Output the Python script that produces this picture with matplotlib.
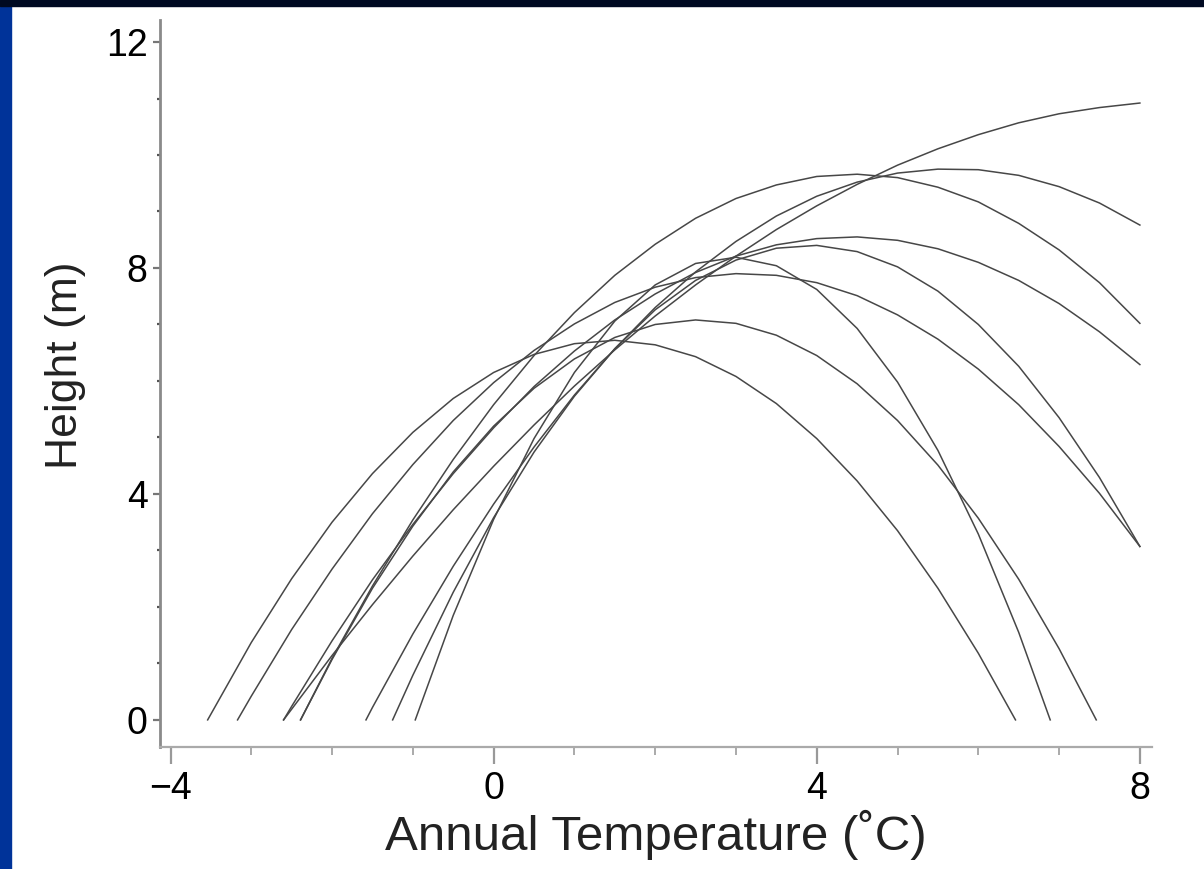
import matplotlib.pyplot as plt
from matplotlib.patches import Rectangle
from matplotlib.ticker import MultipleLocator

plt.rcParams['font.family'] = ['Liberation Sans', 'DejaVu Sans']

# temperature grid (deg C) used when reading heights off the curves
temp_grid = [-3.0, -2.5, -2.0, -1.5, -1.0, -0.5, 0.0, 0.5, 1.0, 1.5, 2.0, 2.5,
             3.0, 3.5, 4.0, 4.5, 5.0, 5.5, 6.0, 6.5, 7.0, 7.5, 8.0]

# each curve: (temp where it starts at 0 m, heights on temp_grid, temp where it ends at 0 m or None)
curve_a = (-3.54, [1.37, 2.50, 3.50, 4.36, 5.09, 5.69, 6.15, 6.47, 6.66, 6.72, 6.64, 6.43,
                   6.08, 5.60, 4.98, 4.23, 3.35, 2.33, 1.18], 6.46)
curve_b = (-3.17, [0.42, 1.60, 2.67, 3.65, 4.52, 5.30, 5.97, 6.54, 7.01, 7.39, 7.66, 7.83,
                   7.90, 7.87, 7.74, 7.51, 7.17, 6.74, 6.21, 5.58, 4.84, 4.01, 3.07], None)
curve_c = (-1.25, [0.79, 2.26, 3.58, 4.74, 5.73, 6.57, 7.26, 7.78, 8.14, 8.35, 8.40, 8.29,
                   8.02, 7.59, 7.00, 6.26, 5.35, 4.29, 3.07], None)
curve_d = (-2.60, [0.24, 1.40, 2.48, 3.46, 4.36, 5.17, 5.90, 6.53, 7.08, 7.54, 7.92, 8.21,
                   8.41, 8.52, 8.55, 8.49, 8.34, 8.10, 7.78, 7.37, 6.87, 6.29], None)
curve_e = (-2.39, [1.09, 2.37, 3.54, 4.61, 5.58, 6.45, 7.21, 7.87, 8.42, 8.88, 9.23, 9.47,
                   9.62, 9.66, 9.60, 9.43, 9.17, 8.79, 8.32, 7.74, 7.02], None)
curve_f = (-1.58, [0.22, 1.52, 2.72, 3.82, 4.83, 5.75, 6.57, 7.30, 7.93, 8.47, 8.92, 9.27,
                   9.52, 9.68, 9.75, 9.74, 9.64, 9.44, 9.15, 8.76], None)
curve_g = (-2.60, [0.19, 1.14, 2.04, 2.90, 3.72, 4.49, 5.22, 5.91, 6.55, 7.15, 7.70, 8.21,
                   8.68, 9.10, 9.48, 9.82, 10.11, 10.36, 10.57, 10.73, 10.84, 10.92], None)
curve_h = (-0.97, [1.85, 3.55, 4.98, 6.15, 7.06, 7.70, 8.08, 8.19, 8.04, 7.62, 6.93, 5.98,
                   4.77, 3.29, 1.55], 6.89)
curve_i = (-2.39, [1.07, 2.33, 3.43, 4.39, 5.20, 5.87, 6.39, 6.77, 7.00, 7.08, 7.02, 6.81,
                   6.45, 5.95, 5.30, 4.51, 3.57, 2.49, 1.26], 7.46)

curves = [curve_a, curve_b, curve_c, curve_d, curve_e, curve_f, curve_g, curve_h, curve_i]


def curve_points(curve):
    start, heights, end = curve
    first = [g for g in temp_grid if g > start][:len(heights)]
    xs = [start] + first
    ys = [0.0] + heights
    if end is not None:
        xs.append(end)
        ys.append(0.0)
    return xs, ys


fig = plt.figure(figsize=(12.04, 8.69), dpi=100)
fig.patch.set_facecolor('white')
# slide frame: blue bar on the left, dark strip at the top
fig.add_artist(Rectangle((0, 0), 11 / 1204, 1, transform=fig.transFigure,
                         color='#003399', zorder=0))
fig.add_artist(Rectangle((0, 1 - 6 / 869), 1, 6 / 869, transform=fig.transFigure,
                         color='#000a22', zorder=0))

ax = fig.add_axes([160 / 1204, 122 / 869, 992 / 1204, 727 / 869])

for c in curves:
    xs, ys = curve_points(c)
    ax.plot(xs, ys, color='#474747', lw=1.1, solid_joinstyle='round')

ax.set_xlim(-4.13, 8.15)
ax.set_ylim(-0.48, 12.39)
ax.spines['top'].set_visible(False)
ax.spines['right'].set_visible(False)
ax.spines['left'].set_color('#8a8a8a')
ax.spines['bottom'].set_color('#aaaaaa')
ax.spines['left'].set_linewidth(2)
ax.spines['bottom'].set_linewidth(1.6)

ax.xaxis.set_major_locator(MultipleLocator(4))
ax.xaxis.set_minor_locator(MultipleLocator(1))
ax.yaxis.set_major_locator(MultipleLocator(4))
ax.yaxis.set_minor_locator(MultipleLocator(1))

ax.tick_params(axis='x', which='major', length=12, width=1.6, color='#999999',
               labelsize=27, pad=5)
ax.tick_params(axis='x', which='minor', length=6, width=1.4, color='#aaaaaa')
ax.tick_params(axis='y', which='major', length=5, width=1.6, color='#777777',
               labelsize=27, pad=4)
ax.tick_params(axis='y', which='minor', length=2, width=1.6, color='#555555')

ax.set_xlabel('Annual Temperature (˚C)', fontsize=35.5, labelpad=2, color='#222222')
ax.set_ylabel('Height (m)', fontsize=32, labelpad=10, color='#222222')
ax.yaxis.set_label_coords(-0.075, 0.525)

fig.savefig('out.png', dpi=100)
